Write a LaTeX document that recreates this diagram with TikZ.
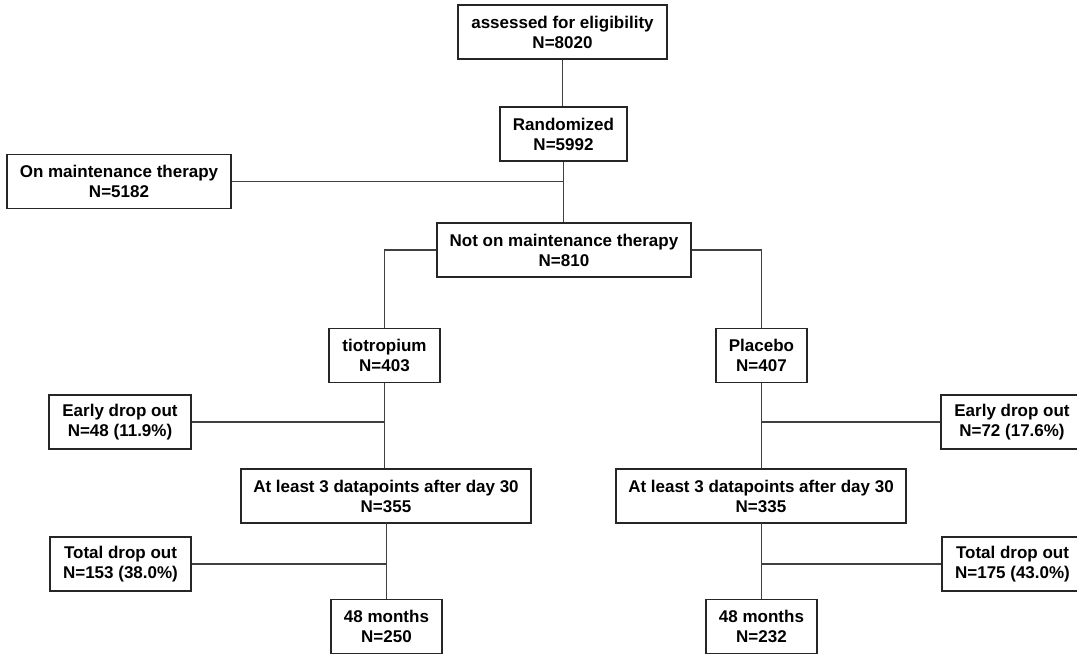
\documentclass[tikz,border=0pt]{standalone}
\usepackage{fontspec}
\setmainfont{Liberation Sans}
\begin{document}
\begin{tikzpicture}[x=1pt,y=-1pt,
  box/.style={draw=black!85, line width=1.1pt, fill=white, inner sep=0pt, align=center,
    font=\fontsize{17}{20}\selectfont\bfseries, minimum height=54pt,
    execute at begin node={\rule{0pt}{16.5pt}}},
  link/.style={draw=black!75, line width=1.1pt}]
\useasboundingbox (0,0) rectangle (1077,655);
\clip (0,0) rectangle (1077,655);
\node[box, minimum width=209pt] (elig) at (562.5,32) {assessed for eligibility\\N=8020};
\node[box, minimum width=127pt] (rand) at (563.5,134) {Randomized\\N=5992};
\node[box, minimum width=224pt] (onm) at (119,181.5) {On maintenance therapy\\N=5182};
\node[box, minimum width=254pt] (noton) at (564,250) {Not on maintenance therapy\\N=810};
\node[box, minimum width=111pt] (tio) at (384.5,355.5) {tiotropium\\N=403};
\node[box, minimum width=91pt] (pla) at (761.5,355.5) {Placebo\\N=407};
\node[box, minimum width=142pt] (earlyL) at (120,422) {Early drop out\\N=48 (11.9\%)};
\node[box, minimum width=142pt] (earlyR) at (1012,422) {Early drop out\\N=72 (17.6\%)};
\node[box, minimum width=290pt] (atL) at (386,496) {At least 3 datapoints after day 30\\N=355};
\node[box, minimum width=290pt] (atR) at (761,496) {At least 3 datapoints after day 30\\N=335};
\node[box, minimum width=141pt] (totL) at (120.5,564) {Total drop out\\N=153 (38.0\%)};
\node[box, minimum width=141pt] (totR) at (1012.5,564) {Total drop out\\N=175 (43.0\%)};
\node[box, minimum width=111pt] (monL) at (386.5,626.5) {48 months\\N=250};
\node[box, minimum width=111pt] (monR) at (761.5,626.5) {48 months\\N=232};
% connectors
\draw[link] (elig.south) -- (elig.south |- rand.north);
\draw[link] (rand.south) -- (rand.south |- noton.north);
\draw[link] (onm.east) -- (onm.east -| rand.south);
\draw[link] (noton.west) -| (tio.north);
\draw[link] (noton.east) -| (pla.north);
\draw[link] (tio.south) -- (tio.south |- atL.north);
\draw[link] (earlyL.east) -- (earlyL.east -| tio.south);
\draw[link] (pla.south) -- (pla.south |- atR.north);
\draw[link] (earlyR.west) -- (earlyR.west -| pla.south);
\draw[link] (atL.south) -- (atL.south -| monL.north) -- (monL.north);
\draw[link] (totL.east) -- (totL.east -| monL.north);
\draw[link] (atR.south) -- (atR.south -| monR.north) -- (monR.north);
\draw[link] (totR.west) -- (totR.west -| monR.north);
\end{tikzpicture}
\end{document}
